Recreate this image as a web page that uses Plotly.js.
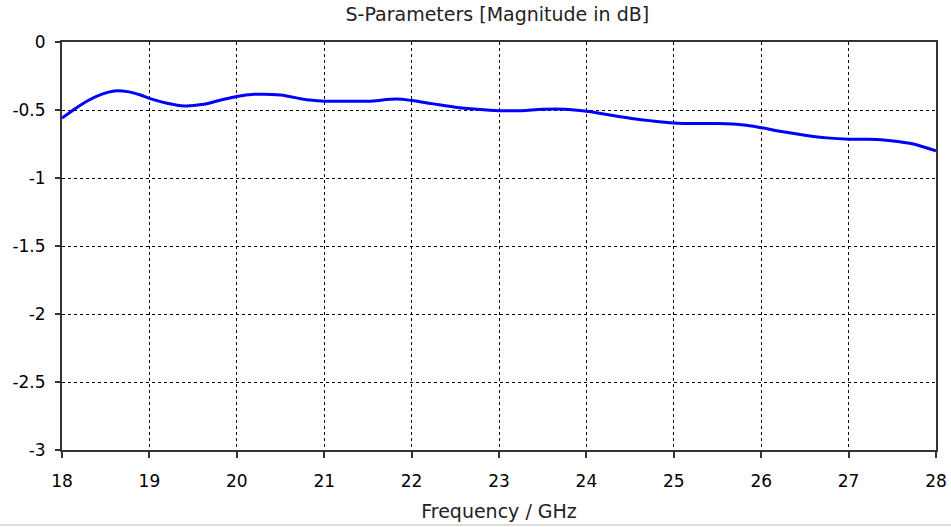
<!DOCTYPE html>
<html>
<head>
<meta charset="utf-8">
<script src="https://cdn.plot.ly/plotly-3.0.1.min.js"></script>
<style>html,body{margin:0;padding:0;background:#fff;}#chart{width:951px;height:527px;}</style>
</head>
<body>
<div id="chart"></div>
<script>
const freq = [18, 18.15, 18.3, 18.45, 18.6, 18.75, 18.9, 19, 19.2, 19.4, 19.6, 19.8, 20, 20.2, 20.5, 20.8, 21, 21.25, 21.5, 21.83, 22, 22.25, 22.5, 22.75, 23, 23.25, 23.5, 23.75, 24, 24.25, 24.5, 24.75, 25, 25.25, 25.5, 25.8, 26, 26.25, 26.5, 26.75, 27, 27.2, 27.4, 27.7, 27.85, 28];
const s11 = [-0.56, -0.49, -0.43, -0.385, -0.36, -0.365, -0.39, -0.415, -0.45, -0.47, -0.46, -0.43, -0.40, -0.385, -0.39, -0.425, -0.435, -0.435, -0.435, -0.42, -0.43, -0.455, -0.48, -0.495, -0.505, -0.505, -0.495, -0.495, -0.51, -0.535, -0.56, -0.58, -0.595, -0.6, -0.6, -0.61, -0.63, -0.66, -0.685, -0.705, -0.715, -0.715, -0.72, -0.745, -0.77, -0.80];
const xTicks = [18, 19, 20, 21, 22, 23, 24, 25, 26, 27, 28];
const yTicks = [0, -0.5, -1, -1.5, -2, -2.5, -3];
const yTickText = ["0", "-0.5", "-1", "-1.5", "-2", "-2.5", "-3"];

const font = "DejaVu Sans, Verdana, sans-serif";
Plotly.newPlot('chart', [{
  x: freq, y: s11, type: 'scatter', mode: 'lines',
  line: {color: '#0000ff', width: 3, shape: 'spline', smoothing: 1},
  hoverinfo: 'skip'
}], {
  width: 951, height: 527,
  margin: {l: 62, r: 15, t: 42, b: 77},
  paper_bgcolor: '#ffffff', plot_bgcolor: '#ffffff',
  showlegend: false,
  font: {family: font, size: 17, color: '#000'},
  title: {text: 'S-Parameters [Magnitude in dB]', x: 0.523, xanchor: 'center', y: 0.972, yanchor: 'middle', font: {family: font, size: 19, color: '#222'}},
  xaxis: {
    range: [18, 28], tickvals: xTicks, ticktext: xTicks.map(String),
    showgrid: true, gridcolor: '#000', gridwidth: 1, griddash: '3px,3px',
    showline: true, linecolor: '#333', linewidth: 2, mirror: true,
    ticks: 'outside', ticklen: 6, tickcolor: '#333', tickwidth: 2,
    ticklabelstandoff: 9,
    zeroline: false,
    tickfont: {family: font, size: 17, color: '#000'},
    title: {text: 'Frequency / GHz', standoff: 14, font: {family: font, size: 19, color: '#222'}}
  },
  yaxis: {
    range: [-3, 0], tickvals: yTicks, ticktext: yTickText,
    showgrid: true, gridcolor: '#000', gridwidth: 1, griddash: '3px,3px',
    showline: true, linecolor: '#333', linewidth: 2, mirror: true,
    ticks: 'outside', ticklen: 5, tickcolor: '#333', tickwidth: 2,
    ticklabelstandoff: 6,
    zeroline: false,
    tickfont: {family: font, size: 17, color: '#000'}
  },
  shapes: [{type: 'line', xref: 'paper', yref: 'paper', x0: -0.08, x1: 1.02, y0: -0.184, y1: -0.184, line: {color: '#dddddd', width: 2}}]
}, {displayModeBar: false, staticPlot: true});
</script>
</body>
</html>
